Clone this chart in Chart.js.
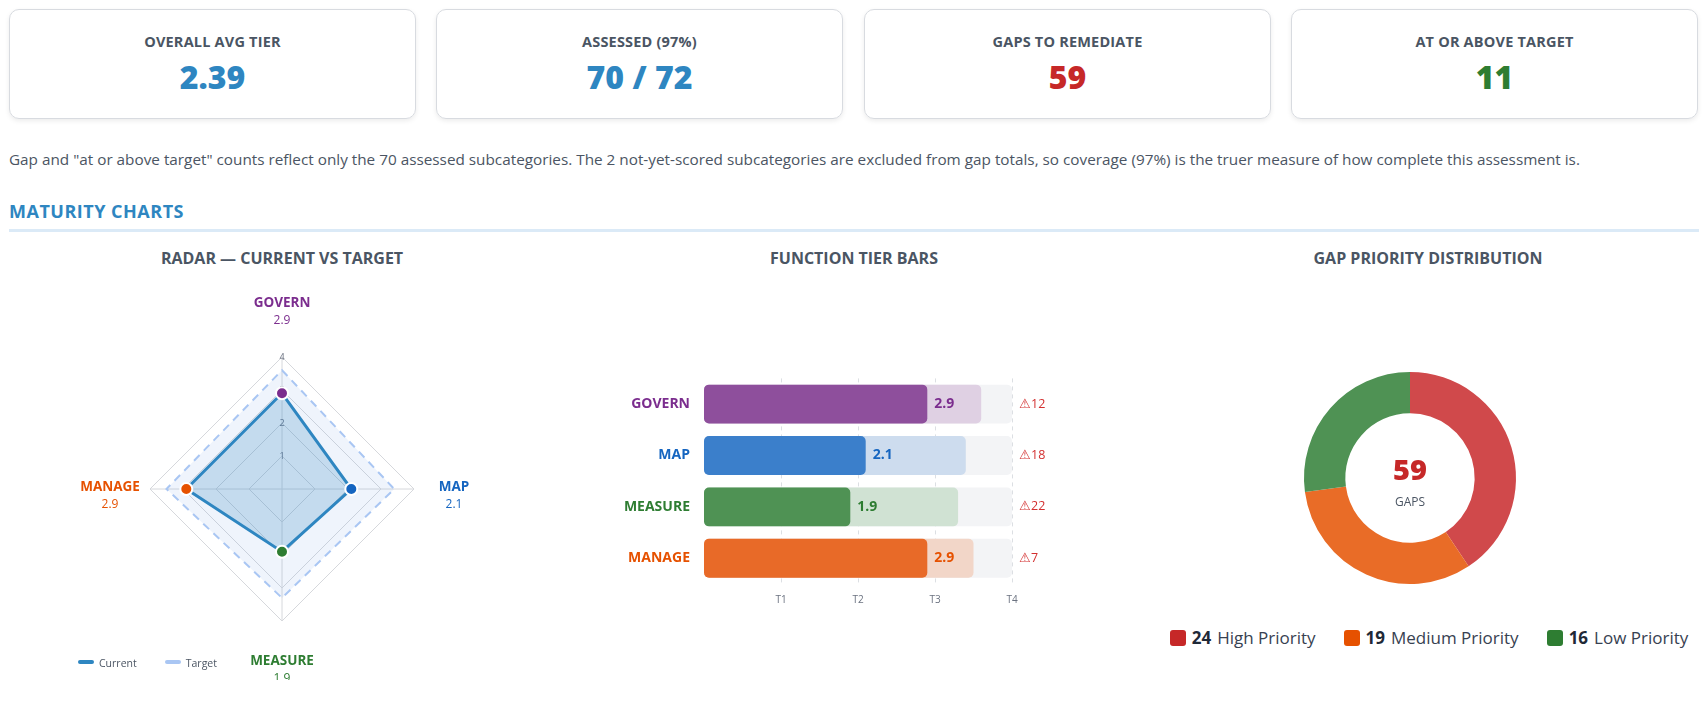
<!DOCTYPE html>
<html><head><meta charset="utf-8">
<script src="https://cdn.jsdelivr.net/npm/chart.js@4.4.1/dist/chart.umd.min.js"></script>
<style>
body{margin:0;background:#fff;font-family:"Open Sans",sans-serif;width:1708px;height:708px;overflow:hidden;position:relative}
.card{position:absolute;top:9px;height:110px;width:407px;border:1px solid #d8dbe0;border-radius:10px;box-shadow:0 2px 5px rgba(0,0,0,.08);text-align:center;box-sizing:border-box}
.card .t{margin-top:22px;font-size:14.5px;font-weight:700;color:#4a5563;letter-spacing:.2px}
.card .v{margin-top:4px;font-size:32px;font-weight:800}
.note{position:absolute;left:9px;top:149px;font-size:15.3px;color:#4b5563}
.sec{position:absolute;left:9px;top:199px;font-size:18px;font-weight:700;color:#2e86c1;letter-spacing:.5px}
.rule{position:absolute;left:9px;top:229px;width:1690px;height:3px;background:#dbeaf7}
.ct{position:absolute;top:247px;font-size:16px;font-weight:700;color:#4a5563;text-align:center;width:560px}
.box{position:absolute}
.leg{position:absolute;top:626px;left:1150px;width:558px;text-align:center;font-size:17px;color:#374151}
.leg span.i{display:inline-block;margin:0 14px}
.leg b{color:#1f2937;margin:0 6px 0 6px}
.sw{display:inline-block;width:16px;height:16px;border-radius:3px;vertical-align:-2px}
.rleg{position:absolute;top:656px;left:78px;font-size:10.5px;color:#4b5563}
.rleg span{display:inline-block;width:16px;height:4px;border-radius:2px;vertical-align:3px;margin-right:5px}
</style></head><body>
<div class="card" style="left:9px"><div class="t">OVERALL AVG TIER</div><div class="v" style="color:#2e86c1">2.39</div></div>
<div class="card" style="left:436px"><div class="t">ASSESSED (97%)</div><div class="v" style="color:#2e86c1">70 / 72</div></div>
<div class="card" style="left:864px"><div class="t">GAPS TO REMEDIATE</div><div class="v" style="color:#c62828">59</div></div>
<div class="card" style="left:1291px"><div class="t">AT OR ABOVE TARGET</div><div class="v" style="color:#2e7d32">11</div></div>
<div class="note">Gap and "at or above target" counts reflect only the 70 assessed subcategories. The 2 not-yet-scored subcategories are excluded from gap totals, so coverage (97%) is the truer measure of how complete this assessment is.</div>
<div class="sec">MATURITY CHARTS</div><div class="rule"></div>
<div class="ct" style="left:2px">RADAR — CURRENT VS TARGET</div>
<div class="ct" style="left:574px">FUNCTION TIER BARS</div>
<div class="ct" style="left:1148px">GAP PRIORITY DISTRIBUTION</div>
<div class="box" style="left:0px;top:280px;width:564px;height:400px"><canvas id="radar"></canvas></div>
<div class="rleg" id="rleg"></div>
<div class="box" style="left:600px;top:364px;width:470px;height:252px"><canvas id="bars"></canvas></div>
<div class="box" style="left:1250px;top:338px;width:320px;height:280px"><canvas id="donut"></canvas></div>
<div class="leg" id="leg"></div>
<script>
const functions=["GOVERN","MAP","MEASURE","MANAGE"];
const funcColors=["#7b2d8e","#1565c0","#2e7d32","#e65100"];
const barColors=["#8e4f9c","#3b7fcb","#4f9254","#e86a28"];
const barLight=["#dfd0e3","#cddcee","#d0e2d3","#f2d6c8"];
const current=[2.9,2.1,1.9,2.9];
const target=[3.6,3.4,3.3,3.5];
const gapCounts=[12,18,22,7];
const tierTicks=["","T1","T2","T3","T4"];
const priorities=["High Priority","Medium Priority","Low Priority"];
const priorityCounts=[24,19,16];
const priorityColors=["#d0494b","#e96c27","#4f9254"];
const legendColors=["#c62828","#e65100","#2e7d32"];
const FONT="'Open Sans', sans-serif";
Chart.defaults.font.family=FONT;

const labelOffsets=[50,40,30,40];
const radarLabels={id:'rl',afterDraw(c){const s=c.scales.r,ctx=c.ctx;ctx.save();ctx.textAlign='center';
 functions.forEach((f,i)=>{const p=s.getPointPosition(i,s.drawingArea+labelOffsets[i]);
  let y=p.y+(i===0?0:(i===2?14:2));
  ctx.fillStyle=funcColors[i];ctx.font="700 13.5px "+FONT;ctx.fillText(f,p.x,y);
  ctx.font="400 12px "+FONT;ctx.fillText(current[i].toFixed(1),p.x,y+17);});ctx.restore();}};
const radarDs=[
  {label:'Current',data:current,borderColor:'#2e86c1',backgroundColor:'rgba(46,134,193,0.22)',borderWidth:3,fill:true,
   pointBackgroundColor:funcColors,pointBorderColor:'#fff',pointBorderWidth:2,pointRadius:6,order:0},
  {label:'Target',data:target,borderColor:'#a9c6f3',backgroundColor:'rgba(96,150,230,0.1)',borderWidth:2,borderDash:[8,6],fill:true,pointRadius:0,order:1}];
new Chart(document.getElementById('radar'),{type:'radar',
 data:{labels:functions,datasets:radarDs},
 options:{responsive:true,maintainAspectRatio:false,animation:false,
  layout:{padding:{top:70,bottom:52}},
  scales:{r:{min:0,max:4,ticks:{stepSize:1,color:'#6b7280',font:{size:9},backdropColor:'rgba(0,0,0,0)'},
   grid:{color:'#d6d8dc'},angleLines:{color:'#d6d8dc'},pointLabels:{display:false}}},
  plugins:{tooltip:{enabled:false},legend:{display:false}}},
 plugins:[radarLabels]});
document.getElementById('rleg').innerHTML=radarDs.map(d=>`<span style="background:${d.borderColor}"></span>${d.label}`).join('<i style="display:inline-block;width:28px"></i>');

const barLabels={id:'bl',afterDatasetsDraw(c){const x=c.scales.x,y=c.scales.y,ctx=c.ctx;ctx.save();ctx.textBaseline='middle';
 functions.forEach((f,i)=>{const yy=y.getPixelForValue(i);
  ctx.fillStyle=funcColors[i];ctx.font="700 14px "+FONT;ctx.fillText(current[i].toFixed(1),x.getPixelForValue(current[i])+7,yy);
  ctx.fillStyle='#d32f2f';ctx.font="400 12.5px "+FONT;ctx.fillText('⚠'+gapCounts[i],x.getPixelForValue(4)+7,yy);});ctx.restore();}};
const bp={grouped:false,borderRadius:5,borderSkipped:false,barPercentage:0.78,categoryPercentage:0.97};
new Chart(document.getElementById('bars'),{type:'bar',
 data:{labels:functions,datasets:[
  {data:current,backgroundColor:barColors,order:0,...bp},
  {data:target,backgroundColor:barLight,order:1,...bp},
  {data:functions.map(()=>4),backgroundColor:'#f3f4f6',order:2,...bp}]},
 options:{indexAxis:'y',responsive:true,maintainAspectRatio:false,animation:false,
  layout:{padding:{right:58,top:0}},
  scales:{x:{min:0,max:4,grid:{color:'#dcdfe3',tickLength:0,lineWidth:c=>c.index===0?0:1},border:{display:false,dash:[4,4]},
    ticks:{stepSize:1,padding:10,color:'#6b7280',font:{size:10},callback:(v)=>tierTicks[v]}},
   y:{grid:{display:false},border:{display:false},afterFit:a=>{a.width=104;},ticks:{padding:6,font:{size:14,weight:'700'},color:c=>funcColors[c.index]}}},
  plugins:{legend:{display:false},tooltip:{enabled:false}}},
 plugins:[barLabels]});

const center={id:'ct',afterDraw(c){const m=c.getDatasetMeta(0).data[0],ctx=c.ctx;ctx.save();ctx.textAlign='center';
 ctx.fillStyle='#c62828';ctx.font="800 29px "+FONT;ctx.fillText(priorityCounts.reduce((a,b)=>a+b,0),m.x,m.y+2);
 ctx.fillStyle='#4b5563';ctx.font="400 12px "+FONT;ctx.fillText('GAPS',m.x,m.y+28);ctx.restore();}};
new Chart(document.getElementById('donut'),{type:'doughnut',
 data:{labels:priorities,datasets:[{data:priorityCounts,backgroundColor:priorityColors,borderWidth:0}]},
 options:{responsive:true,maintainAspectRatio:false,animation:false,cutout:'61%',layout:{padding:{top:34,bottom:34}},
  plugins:{legend:{display:false},tooltip:{enabled:false}}},plugins:[center]});
document.getElementById('leg').innerHTML=priorities.map((p,i)=>`<span class="i"><span class="sw" style="background:${legendColors[i]}"></span><b>${priorityCounts[i]}</b>${p}</span>`).join('');
</script></body></html>
